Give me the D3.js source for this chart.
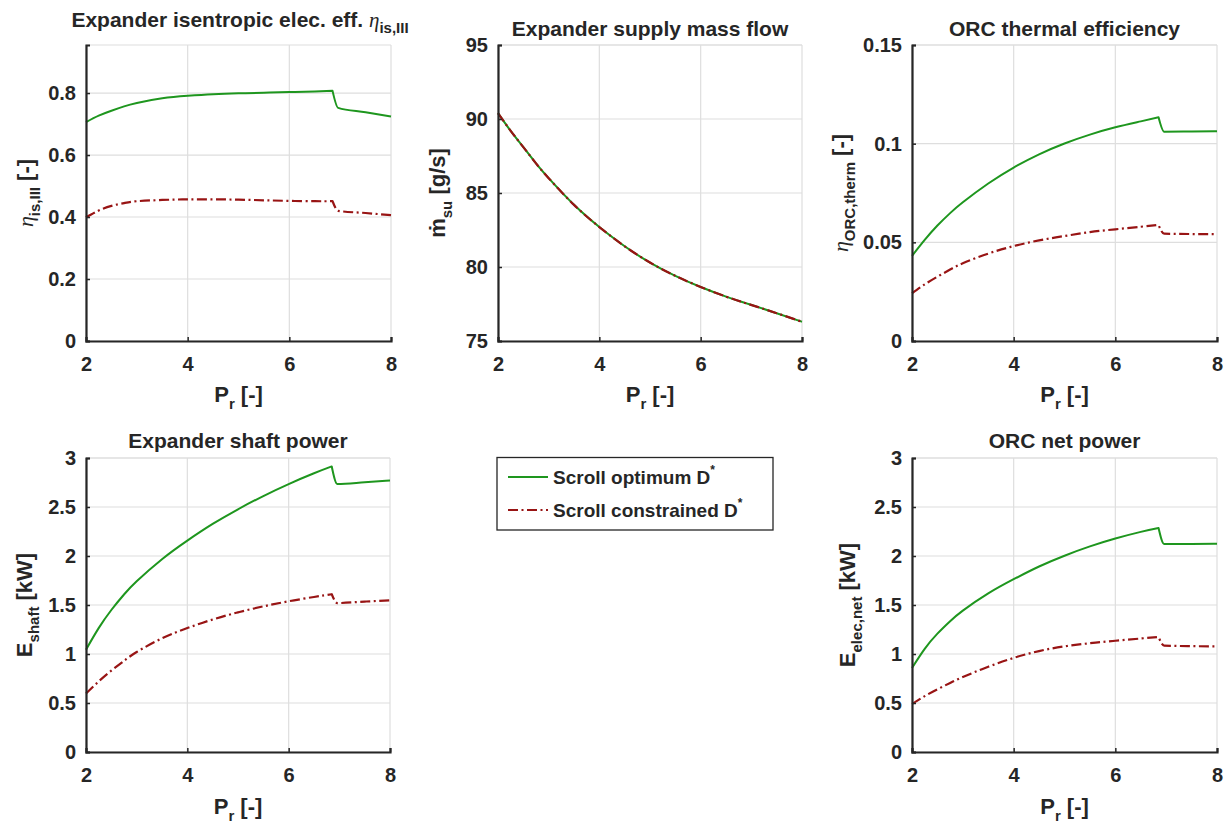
<!DOCTYPE html>
<html><head><meta charset="utf-8">
<script src="https://cdn.jsdelivr.net/npm/d3@7"></script>
<style>body{margin:0;background:#fff}svg{display:block}text{font-family:"Liberation Sans",Arial,sans-serif;font-weight:bold;fill:#262626}</style>
</head><body><svg id="c" width="1231" height="828"></svg>
<script>
// ---- data ----
const pr = [2, 2.25, 2.5, 2.75, 3, 3.5, 4, 4.5, 5, 5.5, 6, 6.5, 6.85, 6.96, 7.5, 8];
const breakIndex = 12; // last point before the step (Pr = 6.85)
const xTicks = [2, 4, 6, 8];
const seriesNames = ["Scroll optimum D", "Scroll constrained D"];

const etaIsOpt  = [0.706,0.727,0.743,0.757,0.768,0.783,0.791,0.796,0.799,0.801,0.803,0.805,0.807,0.752,0.738,0.724];
const etaIsCon  = [0.399,0.421,0.436,0.445,0.451,0.455,0.457,0.457,0.456,0.454,0.452,0.451,0.451,0.420,0.413,0.406];
const etaTicks  = [0, 0.2, 0.4, 0.6, 0.8];

const mdotOpt   = [90.4,89.2,88.1,87.0,86.0,84.2,82.7,81.4,80.3,79.4,78.65,78.0,77.6,77.48,76.88,76.3];
const mdotCon   = [90.4,89.2,88.1,87.0,86.0,84.2,82.7,81.4,80.3,79.4,78.65,78.0,77.6,77.48,76.88,76.3];
const mdotTicks = [75, 80, 85, 90, 95];

const etaThOpt  = [0.0431,0.0512,0.0585,0.0648,0.0703,0.0798,0.0879,0.0946,0.1001,0.1046,0.1083,0.1113,0.1134,0.1061,0.1062,0.1063];
const etaThCon  = [0.0242,0.0287,0.0326,0.0362,0.0394,0.0443,0.0481,0.0510,0.0532,0.0552,0.0566,0.0579,0.0588,0.0544,0.0542,0.0541];
const etaThTicks = [0, 0.05, 0.1, 0.15];

const shaftOpt  = [1.044,1.264,1.449,1.607,1.742,1.967,2.157,2.327,2.477,2.612,2.734,2.844,2.914,2.735,2.752,2.77];
const shaftCon  = [0.597,0.72,0.83,0.93,1.02,1.16,1.265,1.352,1.425,1.486,1.538,1.582,1.61,1.52,1.535,1.548];
const powTicks  = [0, 0.5, 1, 1.5, 2, 2.5, 3];

const netOpt    = [0.858,1.053,1.208,1.335,1.443,1.618,1.763,1.893,2.003,2.098,2.178,2.246,2.285,2.122,2.123,2.125];
const netCon    = [0.49,0.57,0.64,0.705,0.765,0.87,0.96,1.03,1.078,1.11,1.135,1.158,1.174,1.085,1.08,1.078];

// ---- drawing ----
const svg = d3.select("#c");
const green = "#1e961e", red = "#981414";
const styles = [{color: green, dash: null, w: 2}, {color: red, dash: "10,3.5,2,3.5", w: 2.2}];
const FONT = "'Liberation Sans',Arial,sans-serif";

function tickFmt(v){ return String(v); }

function panel(o){
  const x = d3.scaleLinear().domain([2, 8]).range([o.l, o.r]);
  const y = d3.scaleLinear().domain(o.ydom).range([o.b, o.t]);
  const g = svg.append("g");
  // grid
  g.append("g").selectAll("line").data(xTicks).join("line")
    .attr("x1", d => x(d)).attr("x2", d => x(d)).attr("y1", o.t).attr("y2", o.b)
    .attr("stroke", "#dedede").attr("stroke-width", 1.2);
  const yg = o.yticks.concat(o.ydom[1]);
  g.append("g").selectAll("line").data(yg).join("line")
    .attr("x1", o.l).attr("x2", o.r).attr("y1", d => y(d)).attr("y2", d => y(d))
    .attr("stroke", "#dedede").attr("stroke-width", 1.2);
  // lines: smooth part up to the step, then the step and the rest
  const pts = s => s.map((v, i) => [pr[i], v]);
  const smooth = d3.line().x(d => x(d[0])).y(d => y(d[1])).curve(d3.curveNatural);
  const after = d3.line().x(d => x(d[0])).y(d => y(d[1])).curve(d3.curveMonotoneX);
  o.series.forEach((s, k) => {
    const p = pts(s);
    const d = smooth(p.slice(0, breakIndex + 1)) + "L" + after(p.slice(breakIndex)).slice(1);
    g.append("path").attr("d", d).attr("fill", "none")
      .attr("stroke", styles[k].color).attr("stroke-width", styles[k].w)
      .attr("stroke-linejoin", "round")
      .attr("stroke-dasharray", styles[k].dash);
  });
  // axes
  const xa = d3.axisBottom(x).tickValues(xTicks).tickSize(-4).tickPadding(16).tickFormat(tickFmt);
  const ya = d3.axisLeft(y).tickValues(o.yticks).tickSize(-4).tickPadding(10).tickFormat(tickFmt);
  const gx = g.append("g").attr("transform", `translate(0,${o.b})`).call(xa);
  const gy = g.append("g").attr("transform", `translate(${o.l},0)`).call(ya);
  [gx, gy].forEach(a => {
    a.select(".domain").attr("stroke", "#262626").attr("stroke-width", 2.2);
    a.selectAll(".tick line").attr("stroke", "#262626").attr("stroke-width", 1.5);
    a.selectAll(".tick text").style("font-size", "20px").style("font-family", FONT).style("font-weight", "bold").attr("fill", "#262626");
  });
  // title
  const tt = g.append("text").attr("x", o.tx || (o.l + o.r) / 2).attr("y", o.ty)
    .attr("text-anchor", "middle").style("font-size", "21px").attr("fill", "#111");
  o.title(tt);
  // x label
  const xl = g.append("text").attr("x", (o.l + o.r) / 2).attr("y", o.b + o.xly)
    .attr("text-anchor", "middle").style("font-size", "22px");
  xl.append("tspan").text("P");
  xl.append("tspan").attr("dy", 7).style("font-size", "15px").text("r");
  xl.append("tspan").attr("dy", -7).text(" [-]");
  // y label
  const yl = g.append("text").attr("transform", `translate(${o.yx},${(o.t + o.b) / 2}) rotate(-90)`)
    .attr("text-anchor", "middle").style("font-size", "22px");
  o.ylab(yl);
}

function sub(t, main, s, rest, italicMain, sz){
  const m = t.append("tspan").text(main);
  if (italicMain) m.style("font-family", "'Liberation Serif','DejaVu Serif',serif").style("font-style", "italic").style("font-weight", "normal");
  t.append("tspan").attr("dy", 7).style("font-size", (sz || 15) + "px").text(s);
  t.append("tspan").attr("dy", -7).text(rest);
}

const rowTop = {t: 45, b: 341, xly: 61}, rowBot = {t: 458, b: 752, xly: 62};

panel({l: 86, r: 391, ...rowTop, ydom: [0, 0.955], yticks: etaTicks, series: [etaIsOpt, etaIsCon], yx: 33,
  tx: 240, ty: 27,
  title: t => { t.append("tspan").text("Expander isentropic elec. eff. ");
    t.append("tspan").text("η").style("font-family", "'Liberation Serif','DejaVu Serif',serif").style("font-style", "italic").style("font-weight", "normal");
    t.append("tspan").attr("dy", 6).style("font-size", "15px").text("is,III"); },
  ylab: t => sub(t, "η", "is,III", " [-]", true)});

panel({l: 498, r: 802, ...rowTop, ydom: [75, 95], yticks: mdotTicks, series: [mdotOpt, mdotCon], yx: 445,
  ty: 36,
  title: t => t.text("Expander supply mass flow"),
  ylab: t => sub(t, "ṁ", "su", " [g/s]", false)});

panel({l: 912, r: 1217, ...rowTop, ydom: [0, 0.15], yticks: etaThTicks, series: [etaThOpt, etaThCon], yx: 848,
  ty: 36,
  title: t => t.text("ORC thermal efficiency"),
  ylab: t => sub(t, "η", "ORC,therm", " [-]", true)});

panel({l: 86, r: 390, ...rowBot, ydom: [0, 3], yticks: powTicks, series: [shaftOpt, shaftCon], yx: 32,
  ty: 448,
  title: t => t.text("Expander shaft power"),
  ylab: t => sub(t, "E", "shaft", " [kW]", false)});

panel({l: 912, r: 1217, ...rowBot, ydom: [0, 3], yticks: powTicks, series: [netOpt, netCon], yx: 855,
  ty: 448,
  title: t => t.text("ORC net power"),
  ylab: t => sub(t, "E", "elec,net", " [kW]", false)});

// legend
const lg = svg.append("g");
lg.append("rect").attr("x", 497).attr("y", 457.5).attr("width", 276).attr("height", 72.5)
  .attr("fill", "#fff").attr("stroke", "#262626").attr("stroke-width", 1.3);
seriesNames.forEach((n, k) => {
  const yy = 477 + k * 33;
  lg.append("line").attr("x1", 508).attr("x2", 548).attr("y1", yy).attr("y2", yy)
    .attr("stroke", styles[k].color).attr("stroke-width", styles[k].w).attr("stroke-dasharray", styles[k].dash);
  const t = lg.append("text").attr("x", 553).attr("y", yy + 7).style("font-size", "19px").attr("fill", "#111");
  t.append("tspan").text(n);
  t.append("tspan").attr("dy", -10).style("font-size", "12px").text("*");
});
</script></body></html>
